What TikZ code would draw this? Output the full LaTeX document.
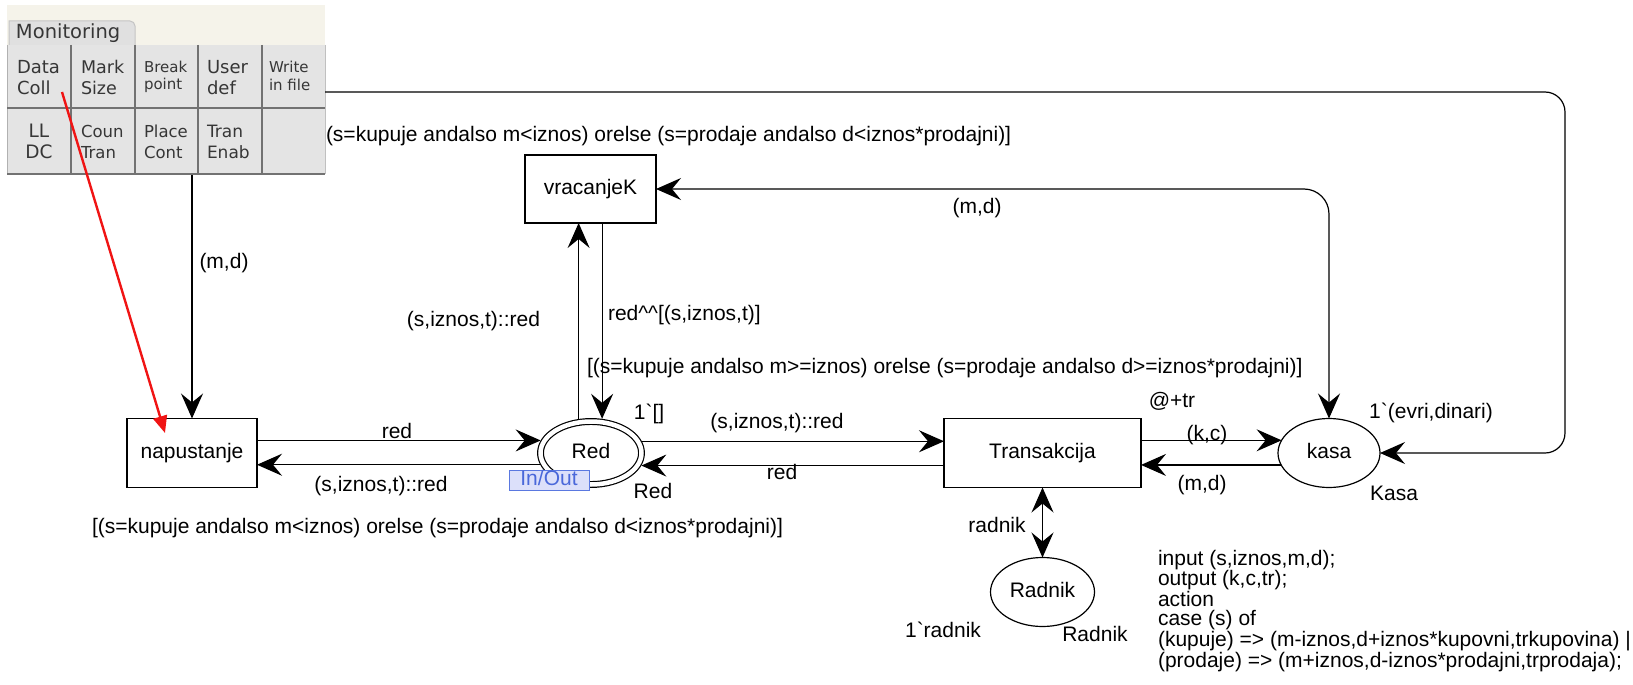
\documentclass[tikz,border=0pt]{standalone}
\usepackage{fontspec}
\setmainfont{Liberation Sans}
\newfontfamily\panelfont{DejaVu Sans}
\usetikzlibrary{arrows.meta,shapes.geometric}

\definecolor{panelbg}{HTML}{E4E4E4}
\definecolor{tabbg}{HTML}{E0E0E0}
\definecolor{tabline}{HTML}{C4C4C4}
\definecolor{panelline}{HTML}{727272}
\definecolor{panelink}{HTML}{363636}
\definecolor{stripbg}{HTML}{F5F3EA}
\definecolor{tagfill}{HTML}{DCE0FA}
\definecolor{tagline}{HTML}{5A78E0}
\definecolor{tagink}{HTML}{4A68DA}
\definecolor{probe}{HTML}{F01414}

\begin{document}
\begin{tikzpicture}[x=1pt,y=-1pt,
  every node/.style={inner sep=0pt, outer sep=0pt},
  lbl/.style={font=\fontsize{21}{19.4}\selectfont, text height=15pt, text depth=4.4pt},
  trans/.style={draw, line width=1.2pt, rectangle, lbl},
  place/.style={draw, line width=1.2pt, ellipse, lbl},
  arc/.style={draw, line width=1.2pt, -{Stealth[length=25pt,width=22pt,inset=9pt]}},
  biarc/.style={draw, line width=1.2pt, {Stealth[length=25pt,width=22pt,inset=9pt]}-{Stealth[length=25pt,width=22pt,inset=9pt]}},
  cell/.style={anchor=west, align=left, text=panelink},
  cellfont/.style={font=\panelfont\fontsize{#1}{21}\selectfont},
]
\useasboundingbox (0,0) rectangle (1633,685);

% ---------- guard above vracanjeK (partly under the monitoring panel)
\node[lbl, anchor=west] (gtop) at (326,136)
  {(s=kupuje andalso m<iznos) orelse (s=prodaje andalso d<iznos*prodajni)]};

% ---------- monitoring panel
\node[minimum width=318pt, minimum height=170pt, anchor=north west] (panel) at (7,5) {};
\fill[stripbg] (7,5) rectangle (325,45);
\draw[fill=tabbg, draw=tabline, line width=1pt]
  (9,45) -- (9,21) -- (130,21) to[out=0,in=90] (135,26) -- (135,45);
\node[anchor=west, text=panelink, font=\panelfont\fontsize{19.5}{21}\selectfont] (montab) at (16,33) {Monitoring};
\fill[panelbg] (7,45) rectangle (325,174);
\draw[panelline!55, line width=1pt] (7,45) -- (7,174);
\draw[panelline!45, line width=1pt] (325,45) -- (325,174);
\foreach \x in {71,135,198,262}
  \draw[panelline, line width=2pt] (\x,45) -- (\x,174);
\draw[panelline, line width=2pt] (7,108) -- (325,108);
\draw[panelline, line width=2pt] (7,174) -- (325,174);

\node[cell, cellfont=18]   (cdata)  at (17,77.5) {Data\\Coll};
\node[cell, cellfont=17.5] (cmark)  at (81,77.5) {Mark\\Size};
\node[cell, font=\panelfont\fontsize{15}{17}\selectfont] (cbreak) at (144,76.5) {Break\\point};
\node[cell, cellfont=18]   (cuser)  at (207,77.5) {User\\def};
\node[cell, font=\panelfont\fontsize{15}{18}\selectfont] (cwrite) at (269,76) {Write\\in file};
\node[align=center, text=panelink, cellfont=18.5] (clldc) at (39,141.5) {LL\\DC};
\node[cell, cellfont=16.5] (ccoun)  at (81,141.5) {Coun\\Tran};
\node[cell, cellfont=16.5] (cplace) at (144,141.5) {Place\\Cont};
\node[cell, cellfont=17]   (ctran)  at (207,141.5) {Tran\\Enab};

\coordinate (panelexit) at (325,92);
\coordinate (loopcorner) at (1565,92);
\coordinate (probestart) at (62,92);

% ---------- places and transitions
\node[trans, minimum width=130pt, minimum height=69pt] (napustanje) at (192,453) {napustanje};
\node[trans, minimum width=131pt, minimum height=68pt] (vracanjeK) at (590.5,189) {vracanjeK};
\node[trans, minimum width=197pt, minimum height=69pt] (Transakcija) at (1042.5,453) {Transakcija};
\node[place, double, double distance=4.5pt, outer sep=3.45pt,
      minimum width=101pt, minimum height=63pt] (Red) at (591,453) {Red};
\node[place, minimum width=102pt, minimum height=69pt] (kasa) at (1329,453) {kasa};
\node[place, minimum width=104pt, minimum height=69pt] (Radnik) at (1042.5,592) {Radnik};

\node[draw=tagline, fill=tagfill, line width=1pt, text=tagink, lbl,
      minimum width=80pt, minimum height=20pt, align=left, anchor=west,
      inner xsep=3pt] (inout) at (509,480) {In/Out\hfill};

\coordinate (probeend) at (165,433);

% ---------- arcs
\draw[arc] (napustanje.east |- Red.166.68) -- (Red.166.68);
\draw[arc] (Red.193.32) -- (napustanje.east |- Red.193.32);
\draw[arc] (Red.13.32) -- (Transakcija.west |- Red.13.32);
\draw[arc] (Transakcija.west |- Red.346.68) -- (Red.346.68);
\draw[arc] (Transakcija.east |- kasa.165.91) -- (kasa.165.91);
\draw[arc] (kasa.194.09) -- (Transakcija.east |- kasa.194.09);
\draw[arc] (Red.110.97) -- (Red.110.97 |- vracanjeK.south);
\draw[arc] (vracanjeK.south -| Red.72.18) -- (Red.72.18);
\draw[biarc, rounded corners=25pt] (kasa.north) |- (vracanjeK.east);
\draw[arc] (napustanje.north |- panel.south) -- (napustanje.north);
\draw[arc, rounded corners=20pt] (panelexit) -- (loopcorner) |- (kasa.east);
\draw[biarc] (Transakcija.south) -- (Radnik.north);

\draw[probe, line width=2.4pt, -{Triangle[length=17pt,width=14pt]}] (probestart) -- (probeend);

% ---------- inscriptions
\node[lbl] (lmd1) at (224,263) {(m,d)};
\node[lbl, anchor=east] (lcons1) at (540,321) {(s,iznos,t)::red};
\node[lbl, anchor=west] (lappend) at (608,315) {red\textasciicircum\textasciicircum[(s,iznos,t)]};
\node[lbl, anchor=west] (gmid) at (587,368)
  {[(s=kupuje andalso m>=iznos) orelse (s=prodaje andalso d>=iznos*prodajni)]};
\node[lbl] (initred) at (649,414) {1\textasciigrave[]};
\node[lbl] (lred1) at (397,433) {red};
\node[lbl] (lcons2) at (381,486) {(s,iznos,t)::red};
\node[lbl] (typered) at (653,493) {Red};
\node[lbl, anchor=west] (gbot) at (92,528)
  {[(s=kupuje andalso m<iznos) orelse (s=prodaje andalso d<iznos*prodajni)]};
\node[lbl] (lcons3) at (777,423) {(s,iznos,t)::red};
\node[lbl] (lred2) at (782,474) {red};
\node[lbl] (ltime) at (1172,402) {@+tr};
\node[lbl] (lkc) at (1207,435) {(k,c)};
\node[lbl] (lmd2) at (1202,485) {(m,d)};
\node[lbl] (initkasa) at (1431,413) {1\textasciigrave(evri,dinari)};
\node[lbl] (typekasa) at (1394,495) {Kasa};
\node[lbl] (lmd3) at (977,208) {(m,d)};
\node[lbl] (lradnik) at (997,527) {radnik};
\node[lbl] (initradnik) at (943,632) {1\textasciigrave radnik};
\node[lbl] (typeradnik) at (1095,636) {Radnik};

\node[anchor=north west, align=left, font=\fontsize{21}{19.4}\selectfont] (code) at (1158,550)
  {input (s,iznos,m,d);\\
   output (k,c,tr);\\
   action\\
   case (s) of\\
   (kupuje) => (m-iznos,d+iznos*kupovni,trkupovina) |\\
   (prodaje) => (m+iznos,d-iznos*prodajni,trprodaja);};
\end{tikzpicture}
\end{document}
